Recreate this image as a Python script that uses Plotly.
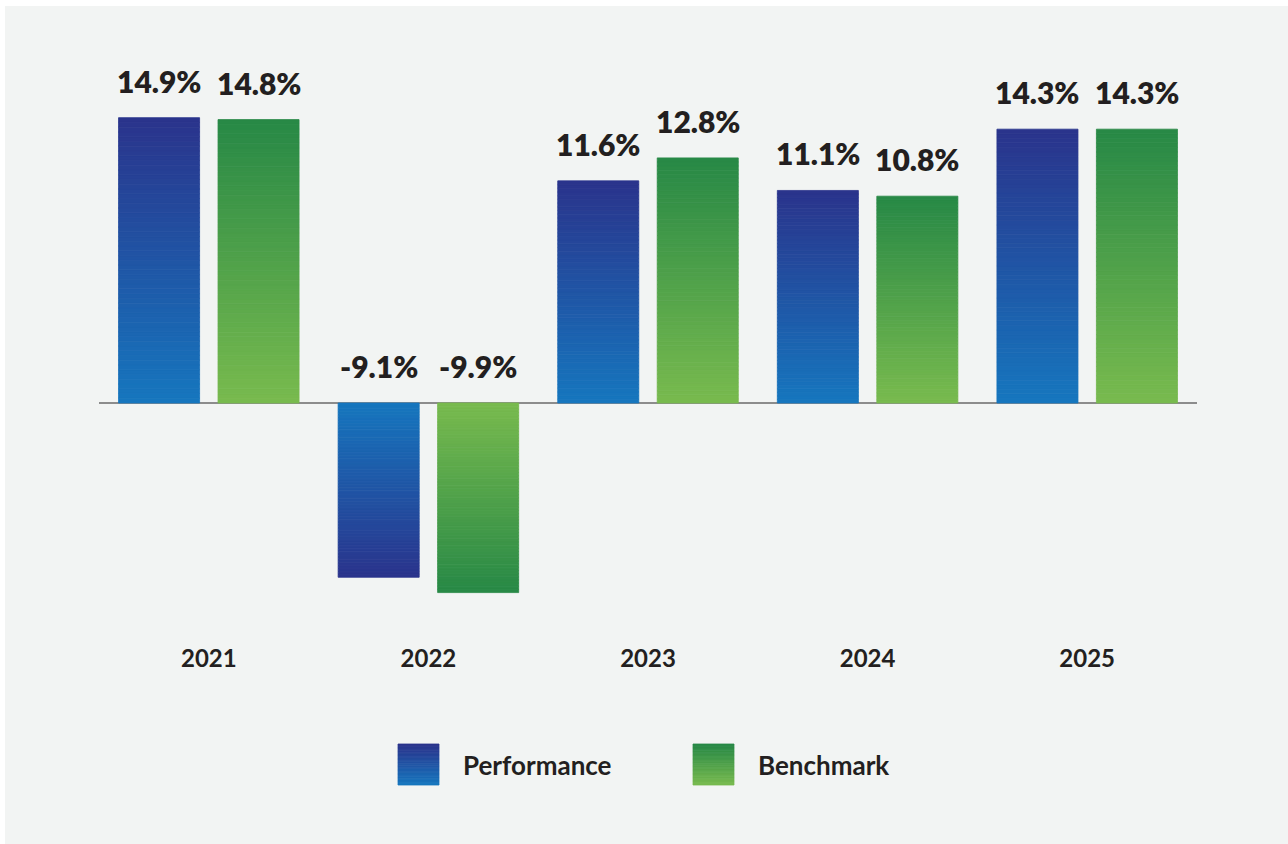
import plotly.graph_objects as go

years = ["2021", "2022", "2023", "2024", "2025"]
performance = [14.9, -9.1, 11.6, 11.1, 14.3]
benchmark = [14.8, -9.9, 12.8, 10.8, 14.3]

# gradient colors: (near zero / light, at tip / dark)
perf_light, perf_dark = (22, 118, 190), (42, 52, 140)
bench_light, bench_dark = (120, 186, 78), (40, 137, 70)

W, H = 1288, 844
L, R, T, B = 99, 91, 60, 214
PW, PH = W - L - R, H - T - B
FONT = "Lato"
TXT = "#231f20"
N = 60
BAR_W = 0.369
OFFSETS = {"Performance": -0.411, "Benchmark": 0.042}
PX_PER_UNIT = 19.15
ZERO_PX = 403

xpos = list(range(len(years)))


def mix(a, b, t):
    return "rgb(%d,%d,%d)" % tuple(round(a[i] + (b[i] - a[i]) * t) for i in range(3))


def px2x(px):
    return (px - L) / PW


def px2y(py):
    return (H - B - py) / PH


fig = go.Figure()
for name, vals, light, dark in [
    ("Performance", performance, perf_light, perf_dark),
    ("Benchmark", benchmark, bench_light, bench_dark),
]:
    for k in range(N):
        c = mix(light, dark, k / (N - 1))
        fig.add_trace(go.Bar(
            x=xpos,
            y=[v / N for v in vals],
            base=[v * k / N for v in vals],
            width=BAR_W,
            offset=OFFSETS[name],
            marker=dict(color=c, line=dict(width=0.8, color=c)),
            showlegend=False,
            hoverinfo="skip",
        ))
    for i, v in zip(xpos, vals):
        fig.add_annotation(
            x=i + OFFSETS[name] + BAR_W / 2, y=max(v, 0), xref="x", yref="y",
            text=f"{v:.1f}%", showarrow=False,
            yshift=17, yanchor="bottom",
            font=dict(family=FONT, size=30, color=TXT, weight=800),
        )

shapes = []
shapes.append(dict(type="rect", xref="paper", yref="paper",
                   x0=px2x(5), x1=px2x(W), y0=px2y(H), y1=px2y(6),
                   fillcolor="#f2f4f3", line=dict(width=0), layer="below"))

legend_items = [(398, 461, "Performance", perf_light, perf_dark),
                (693, 756, "Benchmark", bench_light, bench_dark)]
sq_top, sq_bot = 744, 785
M = 30
for sx, tx, label, light, dark in legend_items:
    for k in range(M):
        y0 = sq_bot - (sq_bot - sq_top) * k / M
        y1 = sq_bot - (sq_bot - sq_top) * (k + 1) / M
        c = mix(light, dark, k / (M - 1))
        shapes.append(dict(type="rect", xref="paper", yref="paper",
                           x0=px2x(sx), x1=px2x(sx + 41),
                           y0=px2y(y0), y1=px2y(y1),
                           fillcolor=c, line=dict(width=0.8, color=c)))
    fig.add_annotation(x=px2x(tx), y=px2y((sq_top + sq_bot) / 2),
                       xref="paper", yref="paper", text=label,
                       showarrow=False, xanchor="left", yanchor="middle",
                       font=dict(family=FONT, size=26, color=TXT, weight=700))

ymin = -(H - B - ZERO_PX) / PX_PER_UNIT
ymax = (ZERO_PX - T) / PX_PER_UNIT

fig.update_layout(
    width=W, height=H,
    margin=dict(l=L, r=R, t=T, b=B, pad=0),
    paper_bgcolor="white",
    plot_bgcolor="rgba(0,0,0,0)",
    barmode="overlay",
    shapes=shapes,
    showlegend=False,
    xaxis=dict(
        range=[-0.5, len(years) - 0.5], showgrid=False, showline=False,
        zeroline=False, ticks="", ticklabelstandoff=12,
        tickmode="array", tickvals=xpos, ticktext=years,
        tickfont=dict(family=FONT, size=24, color=TXT, weight=700),
    ),
    yaxis=dict(
        range=[ymin, ymax], showgrid=False, showticklabels=False,
        zeroline=True, zerolinecolor="#8c8c8c", zerolinewidth=2,
        showline=False, ticks="",
    ),
)

fig.write_html("out.html", config={"displayModeBar": False},
               post_script="document.body.style.margin='0';")
